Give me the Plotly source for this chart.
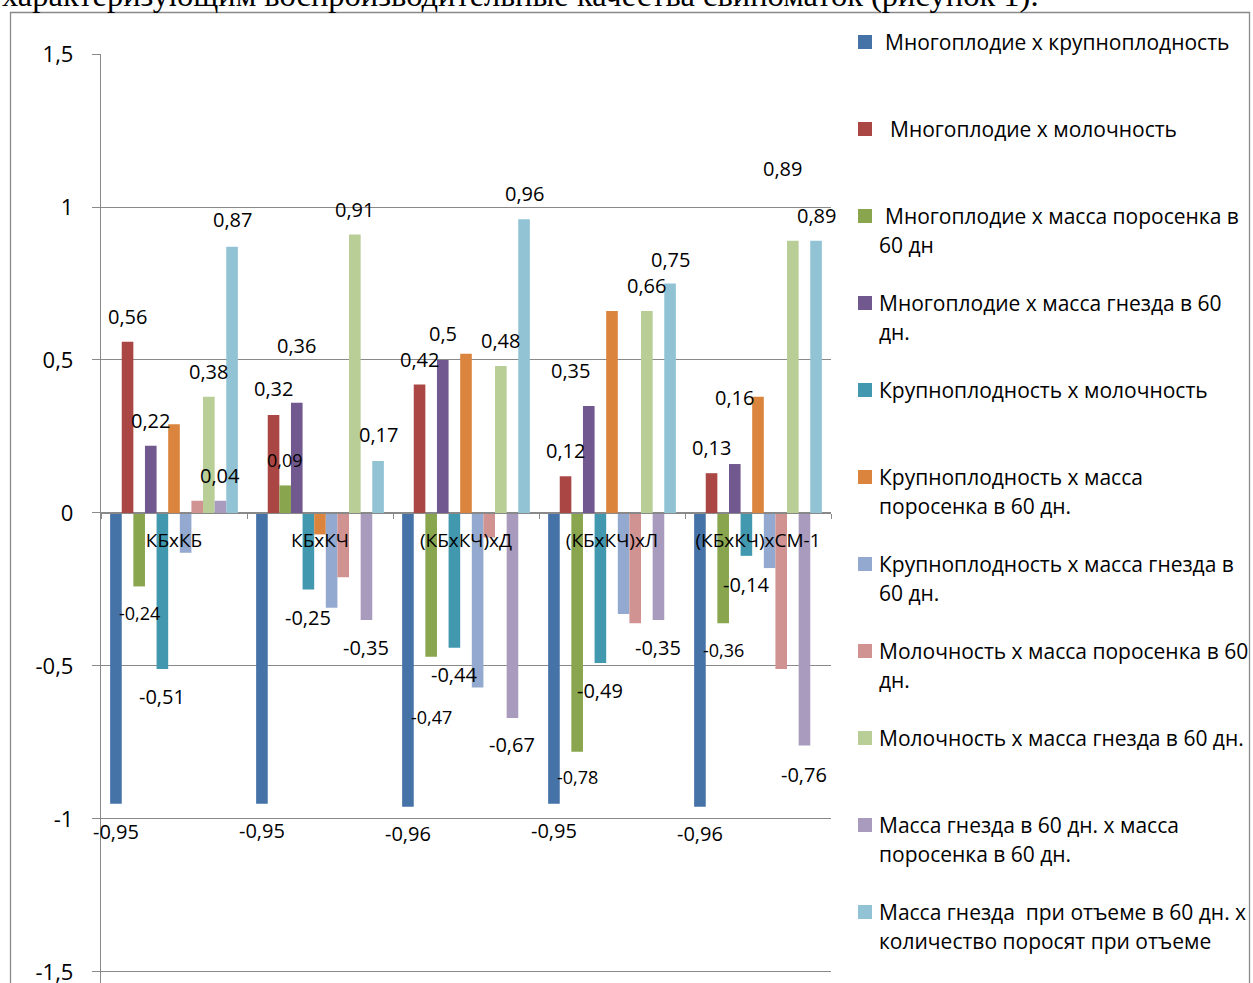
import plotly.graph_objects as go

# ---- data ---------------------------------------------------------------
categories = ["КБхКБ", "КБхКЧ", "(КБхКЧ)хД", "(КБхКЧ)хЛ", "(КБхКЧ)хСМ-1"]

series_names = [
    " Многоплодие x крупноплодность",
    "  Многоплодие x молочность",
    " Многоплодие x масса поросенка в<br>60 дн",
    "Многоплодие x масса гнезда в 60<br>дн.",
    "Крупноплодность x молочность",
    "Крупноплодность x масса<br>поросенка в 60 дн.",
    "Крупноплодность x масса гнезда в<br>60 дн.",
    "Молочность x масса поросенка в 60<br>дн.",
    "Молочность x масса гнезда в 60 дн.",
    "Масса гнезда в 60 дн. x масса<br>поросенка в 60 дн.",
    "Масса гнезда  при отъеме в 60 дн. x<br>количество поросят при отъеме",
]

mnogo_krupno = [-0.95, -0.95, -0.96, -0.95, -0.96]
mnogo_moloch = [0.56, 0.32, 0.42, 0.12, 0.13]
mnogo_massa_por = [-0.24, 0.09, -0.47, -0.78, -0.36]
mnogo_massa_gn = [0.22, 0.36, 0.50, 0.35, 0.16]
krupno_moloch = [-0.51, -0.25, -0.44, -0.49, -0.14]
krupno_massa_por = [0.29, -0.07, 0.52, 0.66, 0.38]
krupno_massa_gn = [-0.13, -0.31, -0.57, -0.33, -0.18]
moloch_massa_por = [0.04, -0.21, -0.08, -0.36, -0.51]
moloch_massa_gn = [0.38, 0.91, 0.48, 0.66, 0.89]
gn_x_por = [0.04, -0.35, -0.67, -0.35, -0.76]
gn_otem_x_kol = [0.87, 0.17, 0.96, 0.75, 0.89]

series_values = [
    mnogo_krupno, mnogo_moloch, mnogo_massa_por, mnogo_massa_gn,
    krupno_moloch, krupno_massa_por, krupno_massa_gn, moloch_massa_por,
    moloch_massa_gn, gn_x_por, gn_otem_x_kol,
]

y_ticks = [-1.5, -1, -0.5, 0, 0.5, 1, 1.5]

# ---- styling ------------------------------------------------------------
colors = ["#4572A7", "#AA4643", "#89A54E", "#71588F", "#4198AF", "#DB843D",
          "#93A9CF", "#D19392", "#B9CD96", "#A99BBD", "#91C3D5"]
GRID = "#898989"
FONT = "Open Sans"

# where each data label sits vertically (axis units), None = no label
label_y = {
    0: [-1.042, -1.036, -1.049, -1.039, -1.049],
    1: [0.642, 0.408, 0.500, 0.203, 0.214],
    2: [-0.327, 0.173, -0.667, -0.864, -0.448],
    3: [0.301, 0.549, 0.586, 0.465, 0.376],
    4: [-0.601, -0.342, -0.529, -0.581, -0.235],
    8: [0.464, 0.992, 0.565, 0.743, 1.125],
    9: [0.121, -0.438, -0.758, -0.441, -0.853],
    10: [0.958, 0.256, 1.044, 0.830, 0.971],
}
# horizontal nudges of individual labels (px)
label_dx = {(3, 3): -18, (8, 4): -10}
label_size = {2: 18}

Y_MIN, Y_MAX = -1.536, 1.5
BARGAP = 0.125

# plot-area box in pixels
W, H = 1253, 983
PL, PR, PT, PB = 101, 831, 54, 983


def px_x(px):
    return (px - PL) / (PR - PL)


def px_y(py):
    return (PB - py) / (PB - PT)


def fmt(v):
    return f"{v:g}".replace(".", ",")


fig = go.Figure()
for name, vals, col in zip(series_names, series_values, colors):
    fig.add_trace(go.Bar(
        x=categories, y=vals, name=name.replace("<br>", " ").strip(),
        marker=dict(color=col, line=dict(width=0)), showlegend=False,
    ))

annotations = []
n_series = len(series_values)
slot = (1 - BARGAP) / n_series
for s, ys in label_y.items():
    for g, yl in enumerate(ys):
        if yl is None:
            continue
        xc = g - 0.5 + BARGAP / 2 + slot * (s + 0.5)
        annotations.append(dict(
            x=xc, y=yl, xref="x", yref="y", text=fmt(series_values[s][g]),
            showarrow=False, xanchor="center", yanchor="middle",
            xshift=label_dx.get((s, g), 0),
            font=dict(family=FONT, size=label_size.get(s, 20), color="black"),
        ))

# legend drawn beside the plot
shapes = []
LEG_Y0, LEG_STEP, LEG_LINE = 42, 87, 28.5
for i, (name, col) in enumerate(zip(series_names, colors)):
    yc = LEG_Y0 + LEG_STEP * i
    shapes.append(dict(type="rect", xref="paper", yref="paper",
                       x0=px_x(858), x1=px_x(872), y0=px_y(yc + 7), y1=px_y(yc - 7),
                       fillcolor=col, line=dict(width=0)))
    for j, line in enumerate(name.split("<br>")):
        lead = len(line) - len(line.lstrip(" "))
        annotations.append(dict(
            x=px_x(877 + 5.5 * lead), y=px_y(yc + LEG_LINE * j), xref="paper", yref="paper",
            text=line.strip(), showarrow=False, xanchor="left", yanchor="middle",
            font=dict(family=FONT, size=21, color="black"),
        ))

# chart frame
shapes.append(dict(type="rect", xref="paper", yref="paper",
                   x0=px_x(10.5), x1=px_x(1249.5), y0=px_y(1000), y1=px_y(12.5),
                   line=dict(color=GRID, width=1.3), fillcolor="rgba(0,0,0,0)"))

# running text of the page above the chart
annotations.append(dict(
    x=px_x(0), y=px_y(-5), xref="paper", yref="paper",
    text="характеризующим воспроизводительные качества свиноматок (рисунок 1).",
    showarrow=False, xanchor="left", yanchor="middle",
    font=dict(family="Liberation Serif", size=32.5, color="black"),
))

zero_pos = (0 - Y_MIN) / (Y_MAX - Y_MIN)

fig.update_layout(
    width=W, height=H,
    margin=dict(l=PL, r=W - PR, t=PT, b=H - PB, pad=0),
    paper_bgcolor="white", plot_bgcolor="white",
    barmode="group", bargap=BARGAP, bargroupgap=0,
    font=dict(family=FONT, color="black"),
    xaxis=dict(
        type="category", range=[-0.5, len(categories) - 0.5],
        anchor="free", position=zero_pos,
        showline=True, linecolor=GRID, linewidth=1.3,
        ticks="outside", ticklen=5, tickcolor=GRID, tickson="boundaries",
        showgrid=False, tickfont=dict(family=FONT, size=19, color="black"),
        ticklabelstandoff=10, automargin=False,
    ),
    yaxis=dict(
        range=[Y_MIN, Y_MAX], tickvals=y_ticks, ticktext=[fmt(v) for v in y_ticks],
        showgrid=True, gridcolor=GRID, gridwidth=1.3,
        showline=True, linecolor=GRID, linewidth=1.3,
        ticks="outside", ticklen=8, tickcolor=GRID,
        zeroline=False, tickfont=dict(family=FONT, size=22, color="black"),
        ticklabelstandoff=14, ticklabeloverflow="allow", automargin=False,
    ),
    annotations=annotations, shapes=shapes,
)

fig.write_html("out.html")
